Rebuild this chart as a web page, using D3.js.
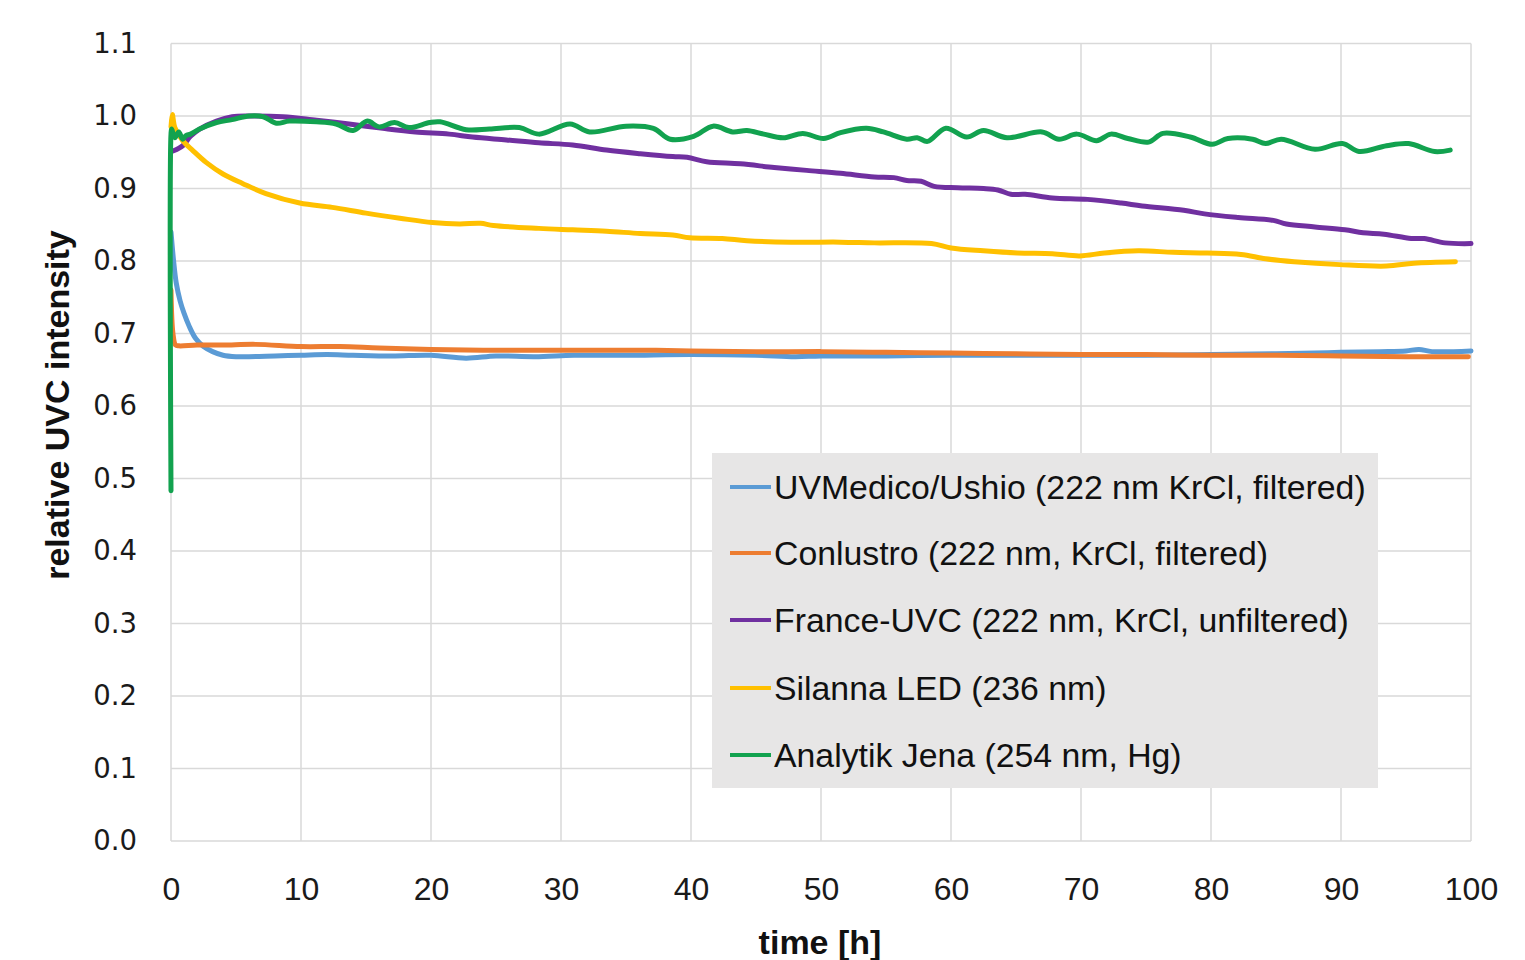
<!DOCTYPE html>
<html><head><meta charset="utf-8">
<script src="https://cdn.jsdelivr.net/npm/d3@7"></script>
<style>body{margin:0;background:#fff}</style>
</head><body>
<svg id="chart" width="1525" height="960"></svg>
<script>
// ---- data ----
const seriesNames = ["UVMedico/Ushio (222 nm KrCl, filtered)","Conlustro (222 nm, KrCl, filtered)","France-UVC (222 nm, KrCl, unfiltered)","Silanna LED (236 nm)","Analytik Jena (254 nm, Hg)"];
const seriesColors = ["#5b9bd5","#ed7d31","#7030a0","#ffc000","#12a24f"];
const xTicks = [0,10,20,30,40,50,60,70,80,90,100];
const yTicks = [0,0.1,0.2,0.3,0.4,0.5,0.6,0.7,0.8,0.9,1.0,1.1];

const blueT = [0,0.2,0.4,0.7,1.0,1.4,1.9,2.5,3.2,4.0,5,6,8,10,12,14,17,20,22.7,25,28,31,35,40,45,48,50,55,60,65,70,75,80,85,88,90,93,95,96,97,100];
const blueV = [0.84,0.80,0.77,0.745,0.728,0.71,0.693,0.682,0.675,0.67,0.668,0.668,0.669,0.670,0.671,0.670,0.669,0.670,0.666,0.669,0.668,0.670,0.670,0.671,0.670,0.668,0.669,0.669,0.670,0.670,0.670,0.670,0.671,0.672,0.673,0.674,0.675,0.676,0.678,0.675,0.676];

const orangeT = [0,0.15,0.35,0.6,2,4,6.5,10,13,16,20,24,28,32,36,40,45,50,55,60,65,70,75,80,85,90,95,99.8];
const orangeV = [0.76,0.70,0.684,0.683,0.684,0.684,0.685,0.682,0.682,0.680,0.678,0.677,0.677,0.677,0.677,0.676,0.675,0.675,0.674,0.673,0.672,0.671,0.671,0.670,0.670,0.669,0.668,0.668];

const purpleT = [0.2,0.9,1.5,2.2,3.5,4.7,6,8.6,11.2,13.7,16.3,18.8,21.4,23.2,25.8,28.3,30.9,33.5,36.1,38.6,39.7,41.2,43.8,46.4,48.9,51.5,54.1,55.6,56.6,57.7,58.7,60.5,62.5,63.6,64.6,65.7,67.8,70.5,73.1,74.7,77.9,79.5,82.1,84.8,85.8,88,90.3,91.7,93.3,95.4,96.4,98,100];
const purpleV = [0.952,0.959,0.972,0.982,0.993,0.999,1.0,0.999,0.994,0.989,0.983,0.978,0.975,0.971,0.967,0.963,0.960,0.953,0.948,0.944,0.943,0.937,0.934,0.929,0.925,0.921,0.916,0.915,0.911,0.910,0.903,0.901,0.900,0.898,0.892,0.892,0.887,0.885,0.880,0.876,0.870,0.865,0.860,0.856,0.851,0.847,0.843,0.839,0.837,0.831,0.831,0.825,0.824];

const yellowT = [0,0.1,0.3,0.9,1.7,2.7,4.0,5.5,7.3,9.9,12.4,15,17.6,20.1,22.2,23.8,24.8,28.3,30.9,33.5,36.1,38.6,39.9,42.4,44.3,47.7,51.5,54.1,58.5,60,62.5,65.1,67.8,69.9,71.8,74.4,77.1,79.7,82.3,84.2,86.4,89.9,93.5,95.6,98.8];
const yellowV = [0.985,1.002,0.984,0.966,0.952,0.936,0.92,0.907,0.893,0.880,0.874,0.866,0.859,0.853,0.851,0.852,0.849,0.845,0.843,0.841,0.838,0.836,0.832,0.831,0.828,0.826,0.826,0.825,0.824,0.818,0.814,0.811,0.810,0.807,0.811,0.814,0.812,0.811,0.809,0.803,0.799,0.795,0.793,0.797,0.799];

const greenT = [0,0,0.05,0.3,0.6,0.9,1.15,1.5,2.2,3.5,4.7,6.0,7.1,8.1,9.1,11.2,12.7,14.0,15.1,16.0,17.2,18.3,19.9,20.7,22.7,24.5,26.8,28.3,30.7,32.2,35.0,37.1,38.4,40.2,41.7,43.2,44.3,45.6,47.1,48.6,50.2,51.5,53.5,54.8,56.6,57.4,58.2,59.6,61.2,62.5,64.3,67.0,68.3,69.7,71.2,72.3,73.6,75.2,76.3,78.4,80.1,81.3,83.2,84.2,85.4,88.0,90.1,91.4,93.5,95.2,97.2,98.4];
const greenV = [0.483,0.975,0.982,0.97,0.978,0.968,0.973,0.975,0.982,0.991,0.995,1.0,0.999,0.990,0.993,0.992,0.989,0.980,0.993,0.985,0.991,0.984,0.991,0.992,0.981,0.982,0.984,0.975,0.989,0.978,0.986,0.983,0.968,0.972,0.986,0.978,0.980,0.975,0.970,0.976,0.969,0.977,0.983,0.978,0.968,0.970,0.965,0.983,0.971,0.980,0.970,0.978,0.968,0.975,0.966,0.975,0.969,0.964,0.976,0.971,0.961,0.969,0.968,0.962,0.968,0.954,0.962,0.951,0.959,0.962,0.951,0.953];

const seriesT = [blueT, orangeT, purpleT, yellowT, greenT];
const seriesV = [blueV, orangeV, purpleV, yellowV, greenV];

// ---- layout ----
const svg = d3.select("#chart");
const L = 171, R = 1471, T = 43.5, B = 841;
const x = d3.scaleLinear().domain([0,100]).range([L,R]);
const y = d3.scaleLinear().domain([0,1.1]).range([B,T]);
const sans = "'Liberation Sans',Arial,sans-serif";

// gridlines
const g = svg.append("g");
g.selectAll("line.v").data(xTicks).join("line")
  .attr("x1",d=>x(d)).attr("x2",d=>x(d)).attr("y1",T).attr("y2",B)
  .attr("stroke","#d9d9d9").attr("stroke-width",1.5);
g.selectAll("line.h").data(yTicks).join("line")
  .attr("x1",L).attr("x2",R).attr("y1",d=>y(d)).attr("y2",d=>y(d))
  .attr("stroke","#d9d9d9").attr("stroke-width",1.5);

// axes
const xAxis = svg.append("g").attr("transform",`translate(0,${B})`)
  .call(d3.axisBottom(x).tickValues(xTicks).tickSize(0).tickPadding(36).tickFormat(d3.format("d")));
xAxis.select(".domain").remove();
xAxis.selectAll("text").attr("font-family",sans).attr("font-size",32).attr("fill","#1a1a1a");

const yAxis = svg.append("g").attr("transform",`translate(${L},0)`)
  .call(d3.axisLeft(y).tickValues(yTicks).tickSize(0).tickPadding(34).tickFormat(d3.format(".1f")));
yAxis.select(".domain").remove();
yAxis.selectAll("text").attr("font-family","'DejaVu Sans',sans-serif").attr("font-size",27.5).attr("fill","#1a1a1a");

// lines
const line = d3.line().x(d=>x(d[0])).y(d=>y(d[1])).curve(d3.curveCatmullRom.alpha(0.5));
seriesT.forEach((ts,i)=>{
  const pts = ts.map((t,j)=>[t, seriesV[i][j]]);
  svg.append("path").datum(pts).attr("d",line)
    .attr("fill","none").attr("stroke",seriesColors[i]).attr("stroke-width",5)
    .attr("stroke-linejoin","round").attr("stroke-linecap","round");
});

// legend
const lg = svg.append("g");
lg.append("rect").attr("x",712).attr("y",453).attr("width",666).attr("height",335).attr("fill","#e7e6e6");
const legY = [487,553,620,688,755];
seriesNames.forEach((n,i)=>{
  lg.append("line").attr("x1",730).attr("x2",771).attr("y1",legY[i]).attr("y2",legY[i])
    .attr("stroke",seriesColors[i]).attr("stroke-width",4);
  lg.append("text").attr("x",774).attr("y",legY[i]).attr("dy","0.35em")
    .attr("font-family",sans).attr("font-size",33.8).attr("fill","#111").text(n);
});

// axis titles
svg.append("text").attr("x",820).attr("y",942).attr("dy","0.35em").attr("text-anchor","middle")
  .attr("font-family",sans).attr("font-weight","bold").attr("font-size",34).attr("fill","#111").text("time [h]");
svg.append("text").attr("transform","translate(57,405) rotate(-90)").attr("dy","0.35em").attr("text-anchor","middle")
  .attr("font-family",sans).attr("font-weight","bold").attr("font-size",34).attr("fill","#111").text("relative UVC intensity");
</script>
</body></html>
